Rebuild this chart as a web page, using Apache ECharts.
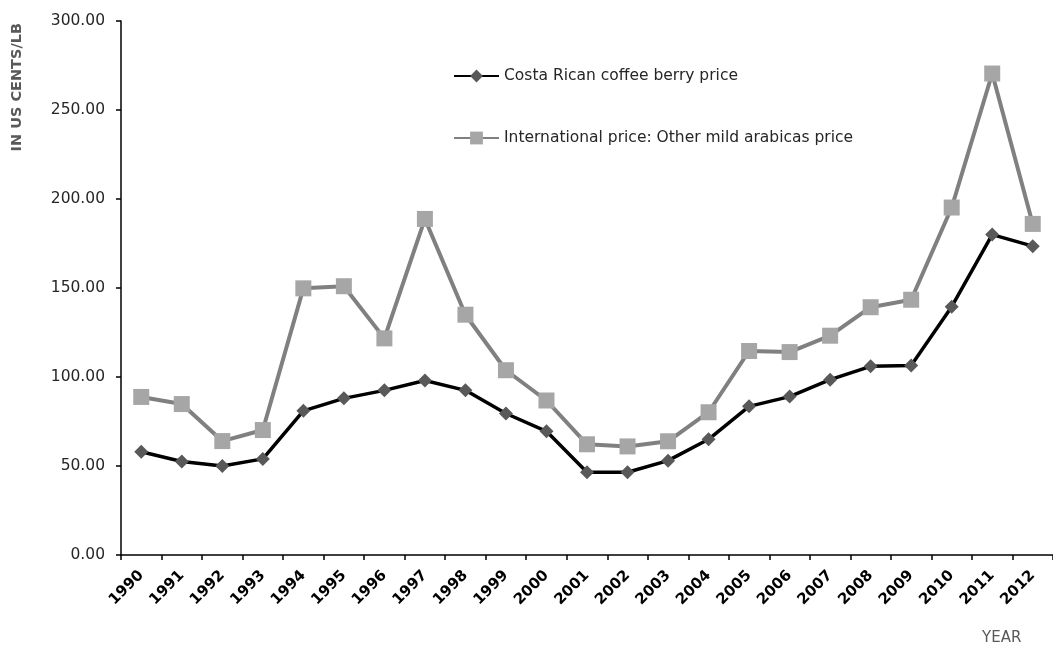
<!DOCTYPE html>
<html><head><meta charset="utf-8">
<script src="https://cdn.jsdelivr.net/npm/echarts@6/dist/echarts.min.js"></script>
<style>html,body{margin:0;padding:0;background:#fff}#c{width:1053px;height:647px}</style>
</head><body><div id="c"></div>
<script>
const years = ['1990','1991','1992','1993','1994','1995','1996','1997','1998','1999','2000','2001','2002','2003','2004','2005','2006','2007','2008','2009','2010','2011','2012'];
const costaRica = [58, 52.5, 50, 54, 81, 88, 92.5, 98, 92.5, 79.5, 69.5, 46.5, 46.5, 53, 65, 83.5, 89, 98.5, 106, 106.5, 139.5, 180, 173.5];
const international = [88.8, 84.8, 64, 70.2, 149.8, 151, 121.7, 188.8, 135, 103.8, 86.8, 62.2, 61, 63.9, 80.2, 114.6, 114, 123.2, 139.2, 143.4, 195.2, 270.5, 186];
const yTicks = {min: 0, max: 300, interval: 50};

const chart = echarts.init(document.getElementById('c'), null, {renderer: 'canvas'});
chart.setOption({
  animation: false,
  backgroundColor: '#fff',
  grid: {left: 121, top: 21, bottom: 92, right: -9, containLabel: false},
  legend: {
    orient: 'vertical', left: 448, top: 63, itemGap: 46, itemWidth: 45, itemHeight: 16,
    textStyle: {fontFamily: 'DejaVu Sans', fontSize: 15.5, color: '#262626'},
    data: ['Costa Rican coffee berry price', 'International price: Other mild arabicas price']
  },
  xAxis: {
    type: 'category', data: years, boundaryGap: true,
    axisLine: {lineStyle: {color: '#000', width: 1.5}},
    axisTick: {show: true, length: 5, lineStyle: {color: '#000', width: 1.5}},
    axisLabel: {rotate: 45, interval: 0, fontFamily: 'DejaVu Sans', fontWeight: 'bold', fontSize: 15, color: '#000', margin: 18}
  },
  yAxis: {
    type: 'value', min: yTicks.min, max: yTicks.max, interval: yTicks.interval,
    splitLine: {show: false},
    axisLine: {show: true, lineStyle: {color: '#000', width: 1.5}},
    axisTick: {show: true, length: 5, lineStyle: {color: '#000', width: 1.5}},
    axisLabel: {formatter: v => v.toFixed(2), fontFamily: 'DejaVu Sans', fontSize: 15.5, color: '#262626', margin: 16}
  },
  graphic: [
    {type: 'text', left: 10, top: 23, rotation: Math.PI / 2,
      style: {text: 'IN US CENTS/LB', fontFamily: 'DejaVu Sans', fontWeight: 'bold', fontSize: 14.5, fill: '#595959'}},
    {type: 'text', left: 982, top: 631,
      style: {text: 'YEAR', fontFamily: 'DejaVu Sans', fontSize: 15, fill: '#595959'}}
  ],
  series: [
    {name: 'Costa Rican coffee berry price', type: 'line', data: costaRica, z: 3,
      symbol: 'diamond', symbolSize: 14,
      lineStyle: {color: '#000', width: 3.5},
      itemStyle: {color: '#595959'}},
    {name: 'International price: Other mild arabicas price', type: 'line', data: international, z: 2,
      symbol: 'rect', symbolSize: 16,
      lineStyle: {color: '#808080', width: 4},
      itemStyle: {color: '#a6a6a6'}}
  ]
});
</script></body></html>
